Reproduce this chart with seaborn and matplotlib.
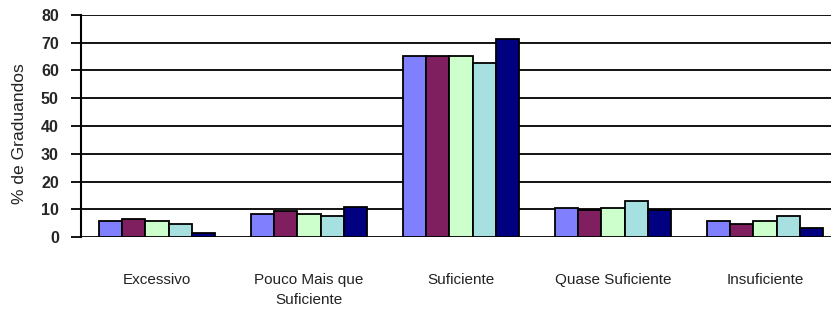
import matplotlib
matplotlib.use("Agg")
import matplotlib.pyplot as plt
import seaborn as sns
import pandas as pd

categories = ["Excessivo", "Pouco Mais que\nSuficiente", "Suficiente", "Quase Suficiente", "Insuficiente"]
series_names = ["Série 1", "Série 2", "Série 3", "Série 4", "Série 5"]
serie1 = [5.9, 8.5, 65.0, 10.6, 5.9]
serie2 = [6.6, 9.5, 65.0, 9.9, 4.9]
serie3 = [5.8, 8.5, 65.0, 10.6, 5.9]
serie4 = [4.9, 7.8, 62.6, 12.9, 7.8]
serie5 = [1.5, 10.9, 71.2, 9.9, 3.5]
yticks = [0, 10, 20, 30, 40, 50, 60, 70, 80]
colors = ["#8080FF", "#7F1F5F", "#CCFFCC", "#A6E0E0", "#000080"]

rows = []
for name, vals in zip(series_names, [serie1, serie2, serie3, serie4, serie5]):
    for c, v in zip(categories, vals):
        rows.append({"Categoria": c, "Série": name, "Valor": v})
df = pd.DataFrame(rows)

sns.set_theme(style="white")
plt.rcParams['font.family'] = ['Liberation Sans', 'DejaVu Sans']

fig = plt.figure(figsize=(8.31, 3.11), dpi=100)
ax = fig.add_axes([81/831, 73.7/311, 1 - 81/831, (296.3 - 73.7)/311])

sns.barplot(data=df, x="Categoria", y="Valor", hue="Série", order=categories,
            hue_order=series_names, palette=colors, width=0.76, saturation=1,
            edgecolor="black", linewidth=1.3, legend=False, ax=ax, zorder=3)

ax.set_ylim(0, 80)
ax.set_xlim(-0.5, 4.434)
ax.set_yticks(yticks)
ax.set_yticklabels([str(t) for t in yticks], fontsize=11.5, fontweight="bold")
ax.yaxis.grid(True, color="black", linewidth=1.3, zorder=0)
ax.set_axisbelow(True)
ax.tick_params(axis="y", which="both", left=True, length=7, width=1.3,
               color="black", pad=9, direction="out")
ax.tick_params(axis="x", length=0, pad=26)
for lbl in ax.get_xticklabels():
    lbl.set_fontsize(11)
    lbl.set_color("#222222")
    lbl.set_linespacing(1.55)
ax.set_xlabel("")
ax.set_ylabel("% de Graduandos", fontsize=12.6, color="#222222")
ax.yaxis.set_label_coords(-0.072, 0.464)
for s in ["top", "right", "bottom"]:
    ax.spines[s].set_visible(False)
ax.spines["left"].set_color("black")
ax.spines["left"].set_linewidth(1.5)

fig.savefig("out.png", dpi=100)
